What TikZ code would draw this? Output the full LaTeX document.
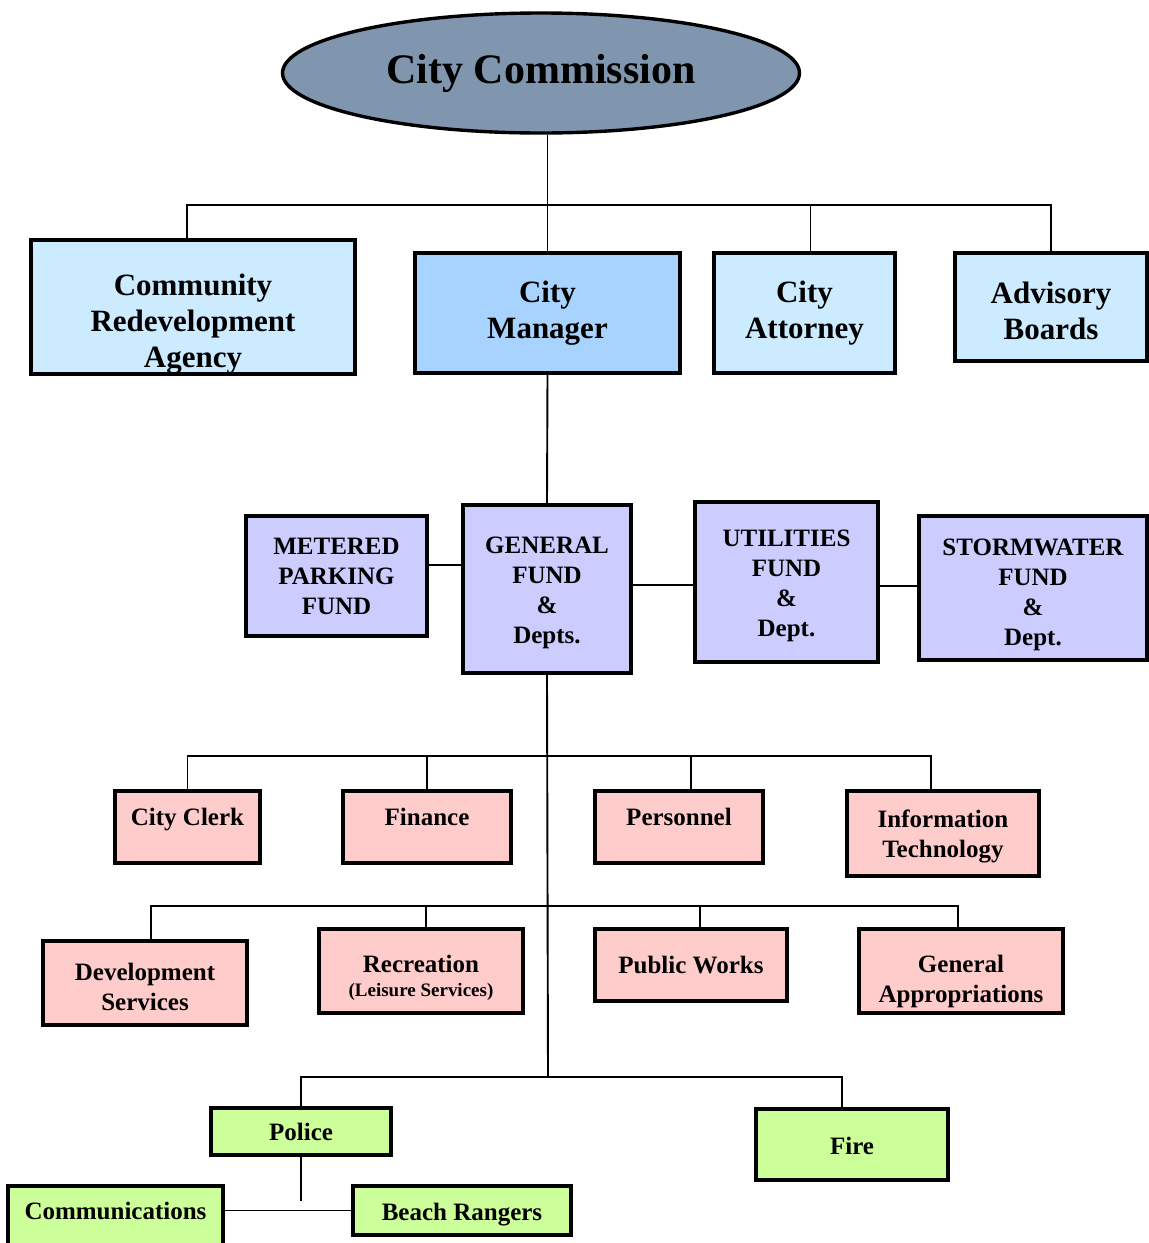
\documentclass[tikz,border=0pt]{standalone}
\usepackage{fontspec}
\setmainfont{Liberation Serif}
\usepackage{tikz}
\usetikzlibrary{shapes.geometric, positioning}
\usepackage{xcolor}
\definecolor{CommissionSlate}{HTML}{7F96AE}
\definecolor{AgencyBlue}{HTML}{CCEBFF}
\definecolor{ManagerBlue}{HTML}{A8D3FF}
\definecolor{FundLilac}{HTML}{CCCCFF}
\definecolor{DeptPink}{HTML}{FFCCCC}
\definecolor{SafetyGreen}{HTML}{CCFF99}
\newcommand{\lift}[1]{\rule{0pt}{#1pt}}

\tikzset{
  orgbox/.style={draw, line width=3.4pt, align=center, inner sep=0pt},
  bigtext/.style={font=\bfseries\fontsize{31}{36}\selectfont},
  fundtext/.style={font=\bfseries\fontsize{25}{30}\selectfont},
  depttext/.style={font=\bfseries\fontsize{25}{30}\selectfont},
  raised/.style={text depth=21pt},
  conn/.style={line width=1.9pt}
}

\begin{document}
\begin{tikzpicture}[x=1pt, y=-1pt]
  \useasboundingbox (0,0) rectangle (1149,1243);
  \clip (0,0) rectangle (1149,1243);

  % top level
  \node[ellipse, draw, line width=3.4pt, fill=CommissionSlate, minimum width=517, minimum height=120, inner sep=0pt,
        font=\bfseries\fontsize{42}{48}\selectfont] (commission) at (541,73) {City Commission};

  \node[orgbox, bigtext, fill=AgencyBlue, minimum width=324, minimum height=132] (agency) at (193,307) {\lift{55}Community\\Redevelopment\\Agency};
  \node[orgbox, bigtext, fill=ManagerBlue, minimum width=265, minimum height=120] (manager) at (547.5,313) {City\\Manager};
  \node[orgbox, bigtext, fill=AgencyBlue, minimum width=181, minimum height=120] (attorney) at (804.5,313) {City\\Attorney};
  \node[orgbox, bigtext, fill=AgencyBlue, minimum width=192, minimum height=108] (advisory) at (1051,307) {\lift{29}Advisory\\Boards};

  % funds
  \node[orgbox, fundtext, fill=FundLilac, minimum width=181, minimum height=120] (parking) at (336.5,576) {METERED\\PARKING\\FUND};
  \node[orgbox, fundtext, fill=FundLilac, minimum width=168, minimum height=168] (general) at (547,589) {\lift{25}GENERAL\\FUND\\\&\\Depts.};
  \node[orgbox, fundtext, fill=FundLilac, minimum width=183, minimum height=160] (utilities) at (786.5,582) {\lift{25}UTILITIES\\FUND\\\&\\Dept.};
  \node[orgbox, fundtext, fill=FundLilac, minimum width=228, minimum height=144] (storm) at (1033,588) {\lift{31}STORMWATER\\FUND\\\&\\Dept.};

  % departments
  \node[orgbox, depttext, raised, fill=DeptPink, minimum width=145, minimum height=72] (clerk) at (187.5,827) {City Clerk};
  \node[orgbox, depttext, raised, fill=DeptPink, minimum width=168, minimum height=72] (finance) at (427,827) {Finance};
  \node[orgbox, depttext, raised, fill=DeptPink, minimum width=168, minimum height=72] (personnel) at (679,827) {Personnel};
  \node[orgbox, depttext, fill=DeptPink, minimum width=192, minimum height=85] (infotech) at (943,833.5) {\lift{23}Information\\Technology};

  \node[orgbox, depttext, fill=DeptPink, minimum width=204, minimum height=84] (devserv) at (145,983) {\lift{25}Development\\Services};
  \node[orgbox, depttext, fill=DeptPink, minimum width=204, minimum height=84] (recreation) at (421,971)
       {\lift{31}Recreation\\[-6pt]{\fontsize{19}{22}\selectfont (Leisure Services)}};
  \node[orgbox, depttext, fill=DeptPink, minimum width=192, minimum height=72] (pubworks) at (691,965) {Public Works};
  \node[orgbox, depttext, fill=DeptPink, minimum width=204, minimum height=84] (genapprop) at (961,971) {\lift{38}General\\Appropriations};

  % public safety
  \node[orgbox, depttext, fill=SafetyGreen, minimum width=180, minimum height=47] (police) at (301,1131.5) {Police};
  \node[orgbox, depttext, fill=SafetyGreen, minimum width=192, minimum height=71] (fire) at (852,1144.5) {\lift{20}Fire};
  \node[orgbox, depttext, fill=SafetyGreen, minimum width=215, minimum height=72, text depth=22pt] (comm) at (115.5,1222) {Communications};
  \node[orgbox, depttext, fill=SafetyGreen, minimum width=218, minimum height=49] (rangers) at (462,1210.5) {\lift{25}Beach Rangers};

  % connectors
  \coordinate (topbus) at (547,205);
  \coordinate (bus1) at (548,756);
  \coordinate (bus2) at (548,906);
  \coordinate (bus3) at (548,1077);
  \coordinate (policeend) at (301,1201);

  \draw[conn] (commission.south -| manager.north) -- (manager.north);
  \draw[conn] ([xshift=-6pt]agency.north) |- (topbus) -| (advisory.north);
  \draw[conn] (topbus) -| ([xshift=6pt]attorney.north);
  \draw[conn] (manager.south) -- (general.north);

  \draw[conn] ([yshift=11pt]parking.east) -- ([yshift=11pt]parking.east -| general.west);
  \draw[conn] ([yshift=-3pt]utilities.west) -- ([yshift=-3pt]utilities.west -| general.east);
  \draw[conn] ([yshift=2pt]storm.west) -- ([yshift=2pt]storm.west -| utilities.east);

  \draw[conn] (general.south) -- (bus3);
  \draw[conn] (clerk.north) |- (bus1) -| ([xshift=-12pt]infotech.north);
  \draw[conn] (finance.north) -- (finance.north |- bus1);
  \draw[conn] ([xshift=12pt]personnel.north) -- ([xshift=12pt]personnel.north |- bus1);
  \draw[conn] ([xshift=6pt]devserv.north) |- (bus2) -| ([xshift=-3pt]genapprop.north);
  \draw[conn] ([xshift=5pt]recreation.north) -- ([xshift=5pt]recreation.north |- bus2);
  \draw[conn] ([xshift=9pt]pubworks.north) -- ([xshift=9pt]pubworks.north |- bus2);
  \draw[conn] (police.north) |- (bus3) -| ([xshift=-10pt]fire.north);
  \draw[conn] (police.south) -- (policeend);
  \draw[conn] (comm.east |- rangers.west) -- (rangers.west);
\end{tikzpicture}
\end{document}
